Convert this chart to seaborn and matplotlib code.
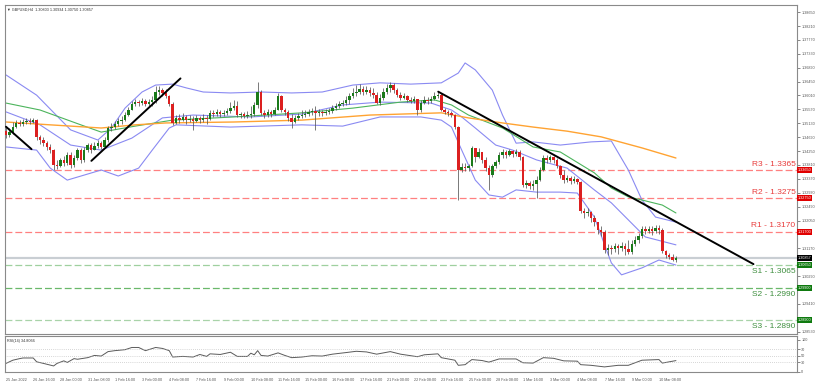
import numpy as np
import pandas as pd
import seaborn as sns
import matplotlib
matplotlib.use("Agg")
import matplotlib.pyplot as plt
import matplotlib.transforms as mtransforms

sns.set_style("white")
plt.rcParams['font.family'] = ['Liberation Sans', 'DejaVu Sans']

# H4 bars, weekdays only, 25 Jan 08:00 -> 11 Mar 04:00
times = pd.date_range('2022-01-25 08:00', '2022-03-11 04:00', freq='4h')
times = times[times.dayofweek < 5]

close = [1.3476, 1.3485, 1.3501, 1.3514, 1.3511, 1.3517, 1.3520, 1.3517, 1.3523, 1.3470,
         1.3460, 1.3451, 1.3438, 1.3428, 1.3381, 1.3378, 1.3397, 1.3387, 1.3413, 1.3381,
         1.3403, 1.3428, 1.3397, 1.3428, 1.3444, 1.3428, 1.3441, 1.3451, 1.3438, 1.3460,
         1.3498, 1.3501, 1.3511, 1.3520, 1.3523, 1.3539, 1.3555, 1.3574, 1.3580, 1.3577,
         1.3584, 1.3574, 1.3580, 1.3587, 1.3612, 1.3618, 1.3609, 1.3599, 1.3574, 1.3514,
         1.3530, 1.3523, 1.3533, 1.3523, 1.3527, 1.3520, 1.3530, 1.3523, 1.3530, 1.3527,
         1.3546, 1.3542, 1.3549, 1.3542, 1.3546, 1.3552, 1.3561, 1.3568, 1.3539, 1.3542,
         1.3536, 1.3539, 1.3542, 1.3571, 1.3612, 1.3546, 1.3539, 1.3549, 1.3542, 1.3555,
         1.3599, 1.3555, 1.3549, 1.3530, 1.3517, 1.3530, 1.3536, 1.3539, 1.3542, 1.3549,
         1.3552, 1.3546, 1.3549, 1.3546, 1.3549, 1.3552, 1.3561, 1.3568, 1.3574, 1.3577,
         1.3587, 1.3599, 1.3609, 1.3612, 1.3622, 1.3612, 1.3618, 1.3609, 1.3603, 1.3577,
         1.3593, 1.3612, 1.3625, 1.3634, 1.3618, 1.3603, 1.3593, 1.3599, 1.3587, 1.3584,
         1.3590, 1.3555, 1.3577, 1.3587, 1.3584, 1.3590, 1.3599, 1.3603, 1.3555, 1.3549,
         1.3546, 1.3539, 1.3501, 1.3365, 1.3375, 1.3371, 1.3378, 1.3435, 1.3406, 1.3422,
         1.3397, 1.3371, 1.3349, 1.3378, 1.3390, 1.3413, 1.3422, 1.3413, 1.3425, 1.3416,
         1.3422, 1.3406, 1.3318, 1.3324, 1.3314, 1.3321, 1.3333, 1.3365, 1.3403, 1.3397,
         1.3406, 1.3397, 1.3378, 1.3349, 1.3333, 1.3340, 1.3330, 1.3337, 1.3327, 1.3235,
         1.3229, 1.3232, 1.3213, 1.3200, 1.3175, 1.3169, 1.3112, 1.3118, 1.3115, 1.3124,
         1.3118, 1.3124, 1.3115, 1.3105, 1.3131, 1.3143, 1.3156, 1.3178, 1.3172, 1.3178,
         1.3172, 1.3182, 1.3175, 1.3109, 1.3096, 1.3090, 1.30803, 1.30857]
high = [1.3501, 1.3498, 1.3517, 1.3523, 1.3523, 1.3527, 1.3530, 1.3530, 1.3530, 1.3527,
        1.3476, 1.3470, 1.3457, 1.3447, 1.3432, 1.3397, 1.3403, 1.3409, 1.3422, 1.3422,
        1.3413, 1.3435, 1.3435, 1.3438, 1.3451, 1.3451, 1.3454, 1.3460, 1.3457, 1.3470,
        1.3504, 1.3514, 1.3520, 1.3530, 1.3536, 1.3549, 1.3564, 1.3584, 1.3590, 1.3587,
        1.3593, 1.3590, 1.3590, 1.3599, 1.3631, 1.3631, 1.3625, 1.3621, 1.3603, 1.3580,
        1.3539, 1.3542, 1.3546, 1.3539, 1.3539, 1.3536, 1.3539, 1.3536, 1.3542, 1.3539,
        1.3555, 1.3555, 1.3558, 1.3555, 1.3555, 1.3561, 1.3580, 1.3587, 1.3584, 1.3549,
        1.3549, 1.3552, 1.3568, 1.3580, 1.3644, 1.3618, 1.3555, 1.3558, 1.3555, 1.3564,
        1.3609, 1.3603, 1.3561, 1.3555, 1.3542, 1.3539, 1.3546, 1.3555, 1.3555, 1.3558,
        1.3561, 1.3568, 1.3558, 1.3555, 1.3558, 1.3561, 1.3571, 1.3577, 1.3584, 1.3587,
        1.3599, 1.3609, 1.3625, 1.3634, 1.3637, 1.3631, 1.3631, 1.3628, 1.3625, 1.3612,
        1.3606, 1.3625, 1.3637, 1.3644, 1.3641, 1.3625, 1.3612, 1.3609, 1.3603, 1.3596,
        1.3599, 1.3590, 1.3587, 1.3599, 1.3596, 1.3599, 1.3612, 1.3615, 1.3609, 1.3561,
        1.3555, 1.3552, 1.3542, 1.3504, 1.3387, 1.3387, 1.3384, 1.3441, 1.3435, 1.3435,
        1.3422, 1.3406, 1.3381, 1.3384, 1.3397, 1.3422, 1.3432, 1.3428, 1.3432, 1.3428,
        1.3432, 1.3428, 1.3409, 1.3333, 1.3330, 1.3333, 1.3346, 1.3375, 1.3413, 1.3413,
        1.3413, 1.3409, 1.3403, 1.3381, 1.3365, 1.3349, 1.3346, 1.3346, 1.3340, 1.3330,
        1.3245, 1.3245, 1.3235, 1.3223, 1.3200, 1.3188, 1.3175, 1.3131, 1.3128, 1.3134,
        1.3131, 1.3137, 1.3134, 1.3143, 1.3143, 1.3156, 1.3166, 1.3188, 1.3188, 1.3188,
        1.3188, 1.3191, 1.3191, 1.3182, 1.3112, 1.3102, 1.3099, 1.30934]
low = [1.3466, 1.3470, 1.3479, 1.3498, 1.3504, 1.3504, 1.3511, 1.3511, 1.3514, 1.3460,
       1.3447, 1.3441, 1.3428, 1.3419, 1.3365, 1.3368, 1.3375, 1.3378, 1.3381, 1.3371,
       1.3375, 1.3397, 1.3387, 1.3390, 1.3422, 1.3419, 1.3428, 1.3435, 1.3432, 1.3435,
       1.3454, 1.3489, 1.3495, 1.3504, 1.3511, 1.3520, 1.3536, 1.3555, 1.3568, 1.3568,
       1.3571, 1.3568, 1.3568, 1.3568, 1.3577, 1.3603, 1.3599, 1.3593, 1.3568, 1.3507,
       1.3511, 1.3514, 1.3520, 1.3511, 1.3517, 1.3492, 1.3517, 1.3514, 1.3517, 1.3511,
       1.3523, 1.3533, 1.3536, 1.3533, 1.3536, 1.3539, 1.3546, 1.3555, 1.3533, 1.3530,
       1.3530, 1.3530, 1.3530, 1.3536, 1.3561, 1.3539, 1.3530, 1.3533, 1.3533, 1.3539,
       1.3555, 1.3549, 1.3539, 1.3520, 1.3498, 1.3514, 1.3523, 1.3530, 1.3533, 1.3536,
       1.3539, 1.3492, 1.3536, 1.3536, 1.3539, 1.3542, 1.3546, 1.3555, 1.3561, 1.3568,
       1.3571, 1.3574, 1.3593, 1.3599, 1.3606, 1.3603, 1.3606, 1.3599, 1.3593, 1.3574,
       1.3571, 1.3587, 1.3606, 1.3612, 1.3609, 1.3596, 1.3587, 1.3590, 1.3580, 1.3577,
       1.3577, 1.3539, 1.3549, 1.3574, 1.3574, 1.3577, 1.3587, 1.3593, 1.3552, 1.3542,
       1.3536, 1.3533, 1.3495, 1.3270, 1.3359, 1.3362, 1.3362, 1.3375, 1.3390, 1.3403,
       1.3387, 1.3362, 1.3302, 1.3343, 1.3371, 1.3384, 1.3403, 1.3403, 1.3409, 1.3406,
       1.3409, 1.3397, 1.3311, 1.3308, 1.3305, 1.3302, 1.3276, 1.3330, 1.3362, 1.3387,
       1.3390, 1.3387, 1.3371, 1.3340, 1.3324, 1.3327, 1.3321, 1.3324, 1.3321, 1.3229,
       1.3213, 1.3219, 1.3200, 1.3188, 1.3162, 1.3156, 1.3102, 1.3096, 1.3099, 1.3105,
       1.3099, 1.3109, 1.3096, 1.3099, 1.3099, 1.3124, 1.3134, 1.3150, 1.3162, 1.3166,
       1.3159, 1.3166, 1.3162, 1.3102, 1.3086, 1.3083, 1.3077, 1.30750]
first_open = 1.3490

# indicator readings (bar index, price)
bb_up_i = [0, 9, 19, 27, 31, 35, 40, 44, 49, 53, 58, 66, 75, 84, 93, 102, 110, 119, 128,
           133, 135, 138, 143, 146, 150, 155, 163, 172, 178, 183, 187, 191, 197]
bb_up = [1.3666, 1.3602, 1.3492, 1.3460, 1.3498, 1.3561, 1.3612, 1.3634, 1.3637, 1.3625,
         1.3612, 1.3609, 1.3612, 1.3609, 1.3612, 1.3634, 1.3641, 1.3637, 1.3641, 1.3672,
         1.3704, 1.3682, 1.3618, 1.3539, 1.3450, 1.3454, 1.3444, 1.3454, 1.3457, 1.3365,
         1.3270, 1.3216, 1.3200]
bb_mid_i = [0, 10, 19, 28, 37, 46, 55, 72, 87, 99, 110, 125, 131, 134, 138, 144, 149, 156,
            165, 173, 178, 183, 188, 197]
bb_mid = [1.3549, 1.3508, 1.3444, 1.3428, 1.3466, 1.3530, 1.3539, 1.3533, 1.3542, 1.3571,
          1.3580, 1.3577, 1.3555, 1.3533, 1.3498, 1.3444, 1.3428, 1.3397, 1.3371, 1.3302,
          1.3261, 1.3207, 1.3153, 1.3128]
bb_lo_i = [0, 9, 13, 18, 28, 33, 39, 43, 48, 50, 66, 87, 99, 110, 122, 128, 131, 134, 138,
           142, 146, 150, 156, 163, 168, 173, 178, 181, 187, 192, 197]
bb_lo = [1.3438, 1.3428, 1.3371, 1.3333, 1.3365, 1.3346, 1.3371, 1.3428, 1.3498, 1.3508,
         1.3501, 1.3508, 1.3504, 1.3533, 1.3533, 1.3523, 1.3501, 1.3428, 1.3333, 1.3286,
         1.3279, 1.3302, 1.3295, 1.3295, 1.3292, 1.3216, 1.3071, 1.3033, 1.3055, 1.3080,
         1.3064]
ma_fast_i = [0, 10, 22, 28, 38, 49, 67, 87, 102, 116, 126, 131, 136, 146, 155, 163, 173,
             178, 183, 187, 193, 197]
ma_fast = [1.3577, 1.3555, 1.3508, 1.3485, 1.3504, 1.3523, 1.3533, 1.3546, 1.3561, 1.3580,
           1.3587, 1.3571, 1.3539, 1.3498, 1.3438, 1.3422, 1.3356, 1.3308, 1.3280, 1.3270,
           1.3254, 1.3229]
ma_slow_i = [0, 13, 28, 38, 47, 67, 87, 107, 128, 136, 146, 155, 165, 175, 187, 197]
ma_slow = [1.3517, 1.3508, 1.3498, 1.3508, 1.3514, 1.3517, 1.3523, 1.3539, 1.3546, 1.3530,
           1.3514, 1.3501, 1.3488, 1.3470, 1.3435, 1.3403]

# trendlines (start bar, start price, end bar, end price)
trend_lines = [(0, 1.3502, 7.5, 1.3431),
               (25.1, 1.3394, 51.3, 1.3655),
               (127.1, 1.3613, 219.8, 1.3067)]

levels = ['R3', 'R2', 'R1', 'S1', 'S2', 'S3']
level_px = [1.3365, 1.3275, 1.3170, 1.3065, 1.2990, 1.2890]
last_px = 1.30857

rsi_i = [0, 2, 4, 5, 8, 9, 11, 14, 15, 17, 18, 20, 21, 24, 26, 28, 30, 32, 35, 37, 39, 41,
         44, 46, 48, 49, 52, 55, 57, 59, 60, 63, 66, 68, 71, 72, 73, 74, 75, 77, 80, 82, 84,
         87, 90, 93, 96, 100, 103, 106, 109, 113, 116, 121, 123, 127, 128, 132, 133, 135,
         137, 140, 142, 145, 150, 152, 155, 158, 161, 164, 168, 169, 172, 176, 180, 183,
         187, 192, 193, 197]
rsi = [26, 36, 41, 43, 43, 31, 26, 18, 26, 34, 29, 41, 39, 44, 51, 49, 63, 66, 69, 76, 76,
       66, 76, 73, 66, 46, 48, 46, 54, 48, 56, 54, 61, 48, 48, 58, 53, 66, 51, 49, 59, 51,
       44, 46, 50, 49, 55, 60, 64, 62, 55, 63, 55, 47, 53, 56, 44, 36, 20, 22, 38, 35, 30,
       40, 40, 28, 27, 44, 42, 34, 33, 22, 20, 15, 20, 20, 36, 38, 27, 34.8]

opens = [first_open] + close[:-1]   # FX bars open at prior close
df = pd.DataFrame({'open': opens, 'high': high, 'low': low, 'close': close})
df['i'] = np.arange(len(df))

FS = 2.7
fig = plt.figure(figsize=(8.22, 3.86), dpi=100)
ax = fig.add_axes([5/822, 1-334/386, 792/822, 329/386])
axr = fig.add_axes([5/822, 1-372/386, 792/822, 36/386])

# candles
ax.vlines(df['i'], df['low'], df['high'], color='#555555', lw=0.55, zorder=3)
body = (df['close'] - df['open'])
bh = body.abs().clip(lower=0.00008)
up = body >= 0
ax.bar(df['i'][up], bh[up], bottom=df['open'][up], width=0.72, color='#1a7a1a',
       lw=0, zorder=4)
ax.bar(df['i'][~up], bh[~up], bottom=df['close'][~up], width=0.72, color='#dc2020',
       lw=0, zorder=4)

# indicators
bb_col = '#8a8af2'
for xi, yv in [(bb_up_i, bb_up), (bb_mid_i, bb_mid), (bb_lo_i, bb_lo)]:
    sns.lineplot(x=xi, y=yv, ax=ax, color=bb_col, lw=0.8, zorder=2)
sns.lineplot(x=ma_fast_i, y=ma_fast, ax=ax, color='#4cb45c', lw=0.8, zorder=2)
sns.lineplot(x=ma_slow_i, y=ma_slow, ax=ax, color='#ffa332', lw=1.0, zorder=2)

for x0, y0, x1, y1 in trend_lines:
    ax.plot([x0, x1], [y0, y1], color='black', lw=1.4, zorder=5)

# bid line
ax.axhline(last_px, color='#c9ced3', lw=1.6, zorder=1)

# support / resistance
lvl_line = {'R3': '#ff8080', 'R2': '#ff8080', 'R1': '#ff8080',
            'S1': '#9fd09f', 'S2': '#6ab86a', 'S3': '#a9d3a9'}
ybox = mtransforms.blended_transform_factory(ax.transAxes, ax.transData)
for name, px in zip(levels, level_px):
    ax.axhline(px, color=lvl_line[name], lw=0.9, ls=(0, (5.5, 2.4)), zorder=1)
    if name.startswith('R'):
        ax.text(0.998, px + 0.0007, f'{name} - {px:.4f}', transform=ybox, ha='right',
                va='bottom', fontsize=6, color='#e83c3c', zorder=6)
        fc = '#e00000'
    else:
        ax.text(0.998, px - 0.0009, f'{name} - {px:.4f}', transform=ybox, ha='right',
                va='top', fontsize=6, color='#3e8e3e', zorder=6)
        fc = '#0f7a0f'
    ax.text(1.001, px, f'{px:.5f}', transform=ybox, ha='left', va='center',
            fontsize=FS, color='white', clip_on=False, zorder=7,
            bbox=dict(boxstyle='square,pad=0.25', fc=fc, ec='none'))
ax.text(1.001, last_px, f'{last_px:.5f}', transform=ybox, ha='left', va='center',
        fontsize=FS, color='white', clip_on=False, zorder=8,
        bbox=dict(boxstyle='square,pad=0.25', fc='black', ec='none'))

ax.text(0.003, 0.993, '\u25bc GBPUSD,H4  1.30803 1.30934 1.30750 1.30857',
        transform=ax.transAxes, ha='left', va='top', fontsize=FS, color='#303030')

ax.set_xlim(-0.3, 232.6)
ax.set_ylim(1.28457, 1.38875)
yt = np.round(1.38650 - 0.0044 * np.arange(24), 5)
boxed = level_px + [last_px]
ax.set_yticks(yt)
# labels hidden where a price box sits on top of them
ax.set_yticklabels(['' if min(abs(v - b) for b in boxed) < 0.0011 else f'{v:.5f}'
                    for v in yt])
ax.yaxis.tick_right()
ax.set_xticks([])
ax.tick_params(axis='y', labelsize=FS, colors='#555555', length=2, width=0.5, pad=1)

# RSI
sns.lineplot(x=rsi_i, y=rsi, ax=axr, color='#5a5a5a', lw=0.7)
for lv in [70, 50, 30]:
    axr.axhline(lv, color='#b0b0b0', lw=0.5, ls=(0, (1, 2)))
axr.text(0.003, 0.93, 'RSI(14) 34.8066', transform=axr.transAxes, ha='left', va='top',
         fontsize=FS, color='#303030')
axr.set_xlim(-0.3, 232.6)
axr.set_ylim(-1, 112)
axr.yaxis.tick_right()
axr.set_yticks([100, 70, 50, 30, 0])
axr.set_yticklabels(['100', '70', '50', '30', '0'])
axr.tick_params(axis='y', labelsize=FS, colors='#555555', length=2, width=0.5, pad=1)

xt = list(range(0, len(times), 8))
xl = ['25 Jan 2022'] + [f'{times[k].day} {times[k]:%b %H:%M}' for k in xt[1:]]
axr.set_xticks(xt)
axr.set_xticklabels(xl)
axr.tick_params(axis='x', labelsize=FS, colors='#555555', length=3, width=0.5, pad=1)
for lab in axr.get_xticklabels():
    lab.set_ha('left')

for a in (ax, axr):
    a.set_xlabel('')
    a.set_ylabel('')
    for s in a.spines.values():
        s.set_color('#8a8a8a')
        s.set_linewidth(0.8)

fig.savefig('out.png', dpi=100)
